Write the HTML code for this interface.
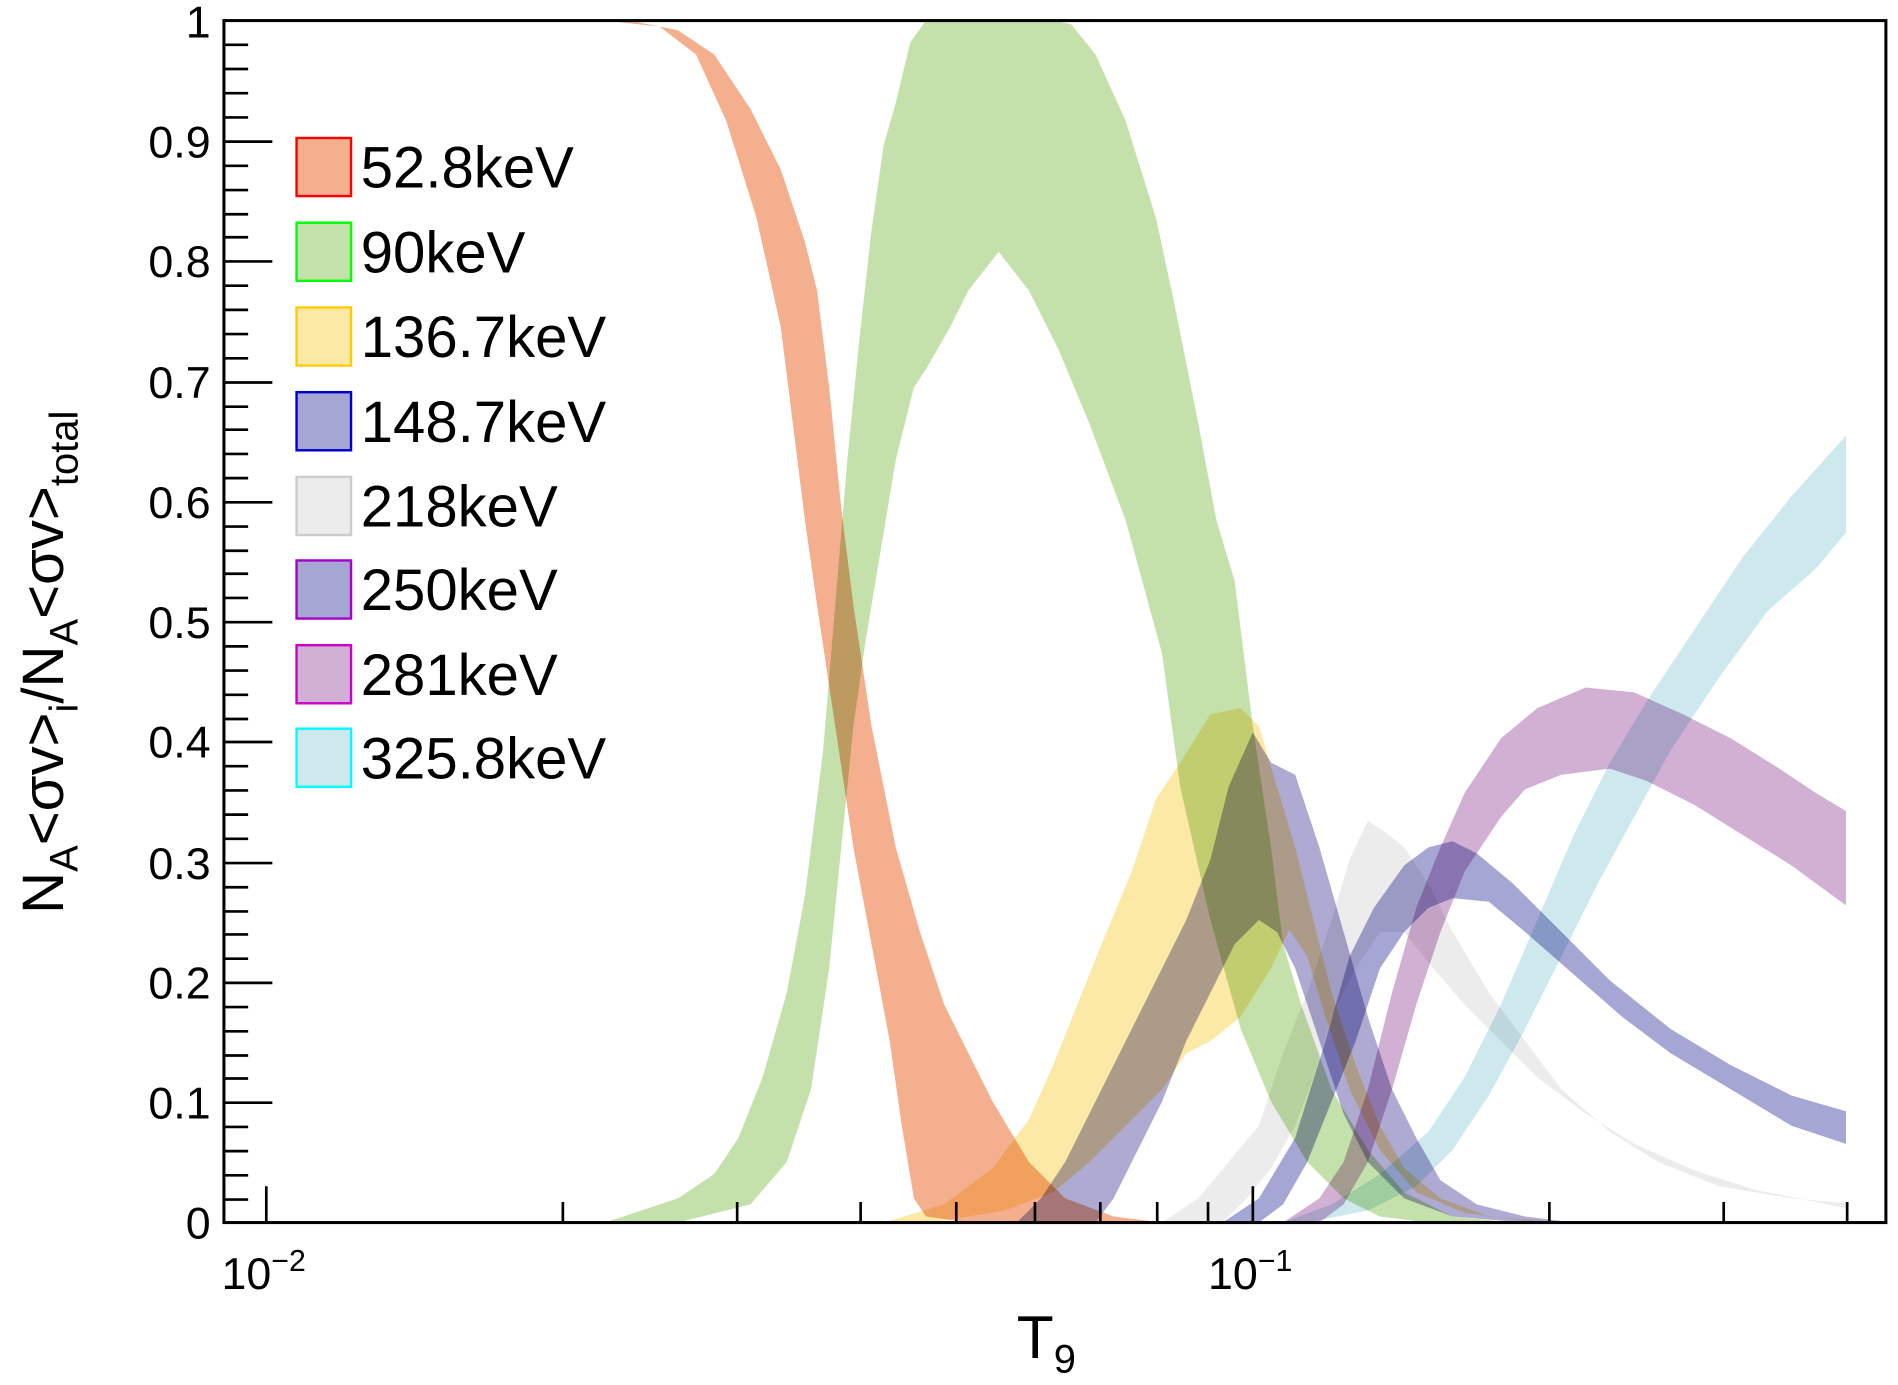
<!DOCTYPE html>
<html><head><meta charset="utf-8"><style>html,body{margin:0;padding:0;background:#fff}svg{display:block}</style></head><body>
<svg width="1898" height="1385" viewBox="0 0 1568 1144.2" preserveAspectRatio="none" xmlns="http://www.w3.org/2000/svg" font-family="Liberation Sans, sans-serif">
<g style="mix-blend-mode:multiply" stroke="none">
<polygon fill="#f4af8f" points="185,17 520,17 560,25 590,45 620,90 645,140 665,200 675,240 685,320 695,420 705,500 720,600 740,700 760,770 780,830 800,870 820,910 850,960 880,990 920,1005 960,1010 800,1010 765,1005 755,990 745,930 735,860 720,780 705,700 690,600 675,500 665,430 655,350 645,270 625,180 600,100 575,45 545,22 500,17 185,17"/>
<polygon fill="#c5e1ab" style="mix-blend-mode:multiply" points="500,1010 560,990 590,970 610,940 630,890 650,820 665,740 680,620 690,500 700,380 710,280 720,190 730,120 740,85 752,35 765,17 870,17 885,20 905,45 930,100 955,180 970,250 990,350 1005,430 1020,480 1035,600 1050,700 1060,780 1075,830 1100,900 1130,950 1160,985 1200,1005 1250,1010 1180,1010 1140,1005 1110,990 1080,960 1050,910 1025,850 1000,760 975,650 960,540 930,430 900,350 875,290 850,240 825,208 800,240 785,270 765,305 755,320 740,380 725,470 715,530 705,600 695,700 685,800 670,900 650,960 620,995 560,1010"/>
</g>
<g style="mix-blend-mode:multiply">
<polygon fill="#fce9a5" style="mix-blend-mode:multiply" points="730,1010 780,995 820,965 850,925 870,880 890,830 910,780 935,720 955,660 975,630 1000,590 1025,585 1040,600 1055,650 1070,700 1085,760 1100,820 1120,880 1140,930 1160,965 1190,990 1230,1005 1290,1010 1270,1010 1210,1002 1170,985 1140,950 1115,900 1095,840 1080,790 1065,768 1050,800 1025,840 1000,860 980,870 960,900 930,930 900,960 870,985 830,1000 770,1010"/>
<polygon fill="#aeaad2" style="mix-blend-mode:multiply" points="840,1010 860,990 880,960 905,910 930,860 955,810 980,760 1000,710 1015,650 1035,605 1050,630 1070,640 1090,700 1110,770 1130,840 1150,900 1170,940 1190,975 1220,995 1260,1005 1300,1010 1260,1010 1200,1005 1160,990 1130,960 1110,920 1090,860 1070,800 1055,770 1040,760 1020,780 1000,820 980,860 960,910 940,950 920,990 905,1010"/>
<polygon fill="#ececec" style="mix-blend-mode:multiply" points="960,1010 990,990 1015,960 1040,930 1060,870 1080,820 1100,760 1115,710 1130,678 1145,688 1160,700 1180,730 1200,770 1230,820 1260,860 1290,900 1330,935 1370,960 1420,980 1480,990 1525,994 1525,998 1450,983 1400,967 1350,945 1310,920 1270,890 1240,860 1210,830 1180,795 1160,770 1140,770 1120,800 1100,840 1085,890 1070,930 1050,965 1030,990 1010,1010"/>
<polygon fill="#a6a6d4" style="mix-blend-mode:multiply" points="1010,1010 1040,990 1070,940 1095,860 1115,790 1135,750 1160,715 1180,700 1200,695 1220,705 1250,730 1290,770 1330,810 1380,850 1430,880 1480,905 1525,918 1525,945 1480,930 1430,900 1380,870 1340,840 1300,805 1260,770 1230,745 1200,742 1180,750 1160,770 1140,800 1120,860 1100,910 1080,960 1060,995 1040,1010"/>
<polygon fill="#d2b0d4" style="mix-blend-mode:multiply" points="1060,1010 1090,990 1110,960 1130,900 1150,820 1170,750 1190,700 1210,655 1240,610 1270,585 1310,568 1350,572 1390,590 1430,610 1470,635 1500,655 1525,670 1525,748 1480,715 1440,690 1400,665 1360,645 1330,635 1290,640 1260,652 1240,675 1210,720 1190,770 1170,830 1150,900 1130,960 1110,995 1090,1010"/>
<polygon fill="#cde9ee" style="mix-blend-mode:multiply" points="1060,1010 1100,995 1140,970 1180,935 1210,890 1240,830 1270,760 1300,690 1330,630 1360,580 1400,520 1440,460 1480,410 1525,360 1525,440 1500,470 1460,505 1420,560 1380,620 1350,675 1320,730 1290,790 1260,850 1230,905 1200,950 1170,980 1130,1000 1080,1010"/>
</g>
<rect x="185" y="17" width="1373" height="993" fill="none" stroke="#000" stroke-width="2.5"/>
<g stroke="#000" stroke-width="2.2">
<path d="M185 117h40M185 216h40M185 316h40M185 415h40M185 514h40M185 613h40M185 713h40M185 812h40M185 911h40"/>
<path d="M185 37h20M185 57h20M185 77h20M185 97h20M185 137h20M185 157h20M185 177h20M185 196h20M185 236h20M185 256h20M185 276h20M185 296h20M185 336h20M185 355h20M185 375h20M185 395h20M185 435h20M185 455h20M185 474h20M185 494h20M185 534h20M185 554h20M185 574h20M185 594h20M185 633h20M185 653h20M185 673h20M185 693h20M185 733h20M185 753h20M185 772h20M185 792h20M185 832h20M185 852h20M185 872h20M185 891h20M185 931h20M185 951h20M185 971h20M185 991h20"/>
<path d="M220 1010v-30M1035 1010v-30M465 1010v-17M609 1010v-17M711 1010v-17M790 1010v-17M855 1010v-17M909 1010v-17M956 1010v-17M998 1010v-17M1280 1010v-17M1424 1010v-17M1526 1010v-17"/>
</g>
<g font-size="37" text-anchor="end" fill="#000">
<text x="174" y="31">1</text><text x="174" y="130">0.9</text><text x="174" y="229">0.8</text><text x="174" y="329">0.7</text><text x="174" y="428">0.6</text><text x="174" y="527">0.5</text><text x="174" y="626">0.4</text><text x="174" y="726">0.3</text><text x="174" y="825">0.2</text><text x="174" y="924">0.1</text><text x="174" y="1023">0</text>
</g>
<g font-size="37" fill="#000">
<text x="183" y="1065">10<tspan font-size="25" dy="-15">−2</tspan></text>
<text x="998" y="1065">10<tspan font-size="25" dy="-15">−1</tspan></text>
<text x="840" y="1122" font-size="50">T<tspan font-size="33" dy="12">9</tspan></text>
<text transform="translate(52,755) rotate(-90)" font-size="48">N<tspan font-size="33" dy="12">A</tspan><tspan dy="-12">&lt;σv&gt;</tspan><tspan font-size="33" dy="12">i</tspan><tspan dy="-12">/N</tspan><tspan font-size="33" dy="12">A</tspan><tspan dy="-12">&lt;σv&gt;</tspan><tspan font-size="33" dy="12">total</tspan></text>
</g>
<g font-size="48" fill="#000" stroke-width="2">
<rect x="245" y="114" width="45" height="48" fill="#f4af8f" stroke="#f00"/><text x="298" y="155">52.8keV</text>
<rect x="245" y="184" width="45" height="48" fill="#c5e1ab" stroke="#0f0"/><text x="298" y="225">90keV</text>
<rect x="245" y="254" width="45" height="48" fill="#fce9a5" stroke="#fc0"/><text x="298" y="295">136.7keV</text>
<rect x="245" y="324" width="45" height="48" fill="#a6a6d4" stroke="#00c"/><text x="298" y="365">148.7keV</text>
<rect x="245" y="394" width="45" height="48" fill="#ececec" stroke="#ccc"/><text x="298" y="435">218keV</text>
<rect x="245" y="463" width="45" height="48" fill="#a6a6d4" stroke="#a0c"/><text x="298" y="504">250keV</text>
<rect x="245" y="533" width="45" height="48" fill="#d2b0d4" stroke="#c0c"/><text x="298" y="574">281keV</text>
<rect x="245" y="602" width="45" height="48" fill="#cde9ee" stroke="#0ff"/><text x="298" y="643">325.8keV</text>
</g>
</svg>
</body></html>
